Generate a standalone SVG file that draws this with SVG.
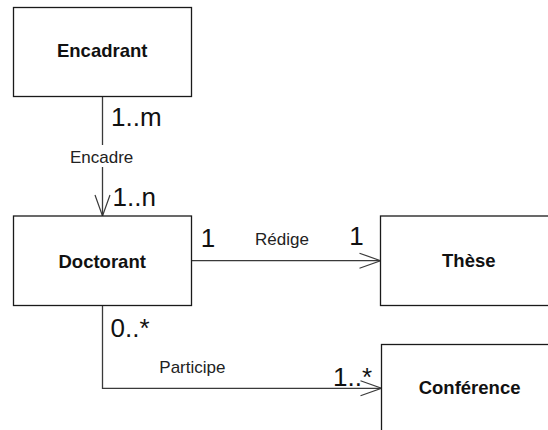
<svg xmlns="http://www.w3.org/2000/svg" width="548" height="430" viewBox="0 0 548 430">
<style>
.box{fill:#fff;stroke:#1a1a1a;stroke-width:1.3}
.name{font-family:"Liberation Sans",Arial,sans-serif;font-weight:bold;font-size:18.5px;fill:#111;text-anchor:middle}
.conn{fill:none;stroke:#3a3a3a;stroke-width:1.3}
.mult{font-family:"Liberation Sans",Arial,sans-serif;font-size:26px;fill:#111}
.lbl{font-family:"Liberation Sans",Arial,sans-serif;font-size:17px;fill:#222}
</style>
<defs>
<marker id="open" markerUnits="userSpaceOnUse" markerWidth="24" markerHeight="18" refX="21" refY="7.5" orient="auto" overflow="visible">
<path d="M0,0 L21,7.5 L0,15" fill="none" stroke="#3a3a3a" stroke-width="1.2"/>
</marker>
</defs>
<rect width="548" height="430" fill="#fff"/>
<g id="connectors">
<g id="c-encadre">
<line class="conn" x1="102.5" y1="96.5" x2="102.5" y2="216" marker-end="url(#open)"/>
<rect x="68" y="145" width="67" height="22" fill="#fff"/>
<text class="lbl" x="70" y="163.3">Encadre</text>
<text class="mult" x="111" y="126">1..m</text>
<text class="mult" x="112.5" y="206">1..n</text>
</g>
<g id="c-redige">
<line class="conn" x1="191.5" y1="260.7" x2="380.5" y2="260.7" marker-end="url(#open)"/>
<text class="lbl" x="255" y="245">Rédige</text>
<text class="mult" x="200.8" y="246.7">1</text>
<text class="mult" x="349.2" y="245">1</text>
</g>
<g id="c-participe">
<path class="conn" d="M102.5,305.5 V388.3 H381.5" marker-end="url(#open)"/>
<text class="lbl" x="159.3" y="373.3">Participe</text>
<text class="mult" x="110.5" y="336.7">0..*</text>
<text class="mult" x="333" y="386">1..*</text>
</g>
</g>
<g id="node-encadrant">
<rect class="box" x="13.5" y="7.5" width="178" height="89"/>
<text class="name" x="102.2" y="57.3">Encadrant</text>
</g>
<g id="node-doctorant">
<rect class="box" x="13.5" y="216" width="178" height="89.5"/>
<text class="name" x="102.2" y="267.7">Doctorant</text>
</g>
<g id="node-these">
<rect class="box" x="380.5" y="216" width="185" height="89.5"/>
<text class="name" x="468.8" y="266.7">Thèse</text>
</g>
<g id="node-conference">
<rect class="box" x="381.5" y="344.5" width="185" height="100"/>
<text class="name" x="469.6" y="394">Conférence</text>
</g>
</svg>
